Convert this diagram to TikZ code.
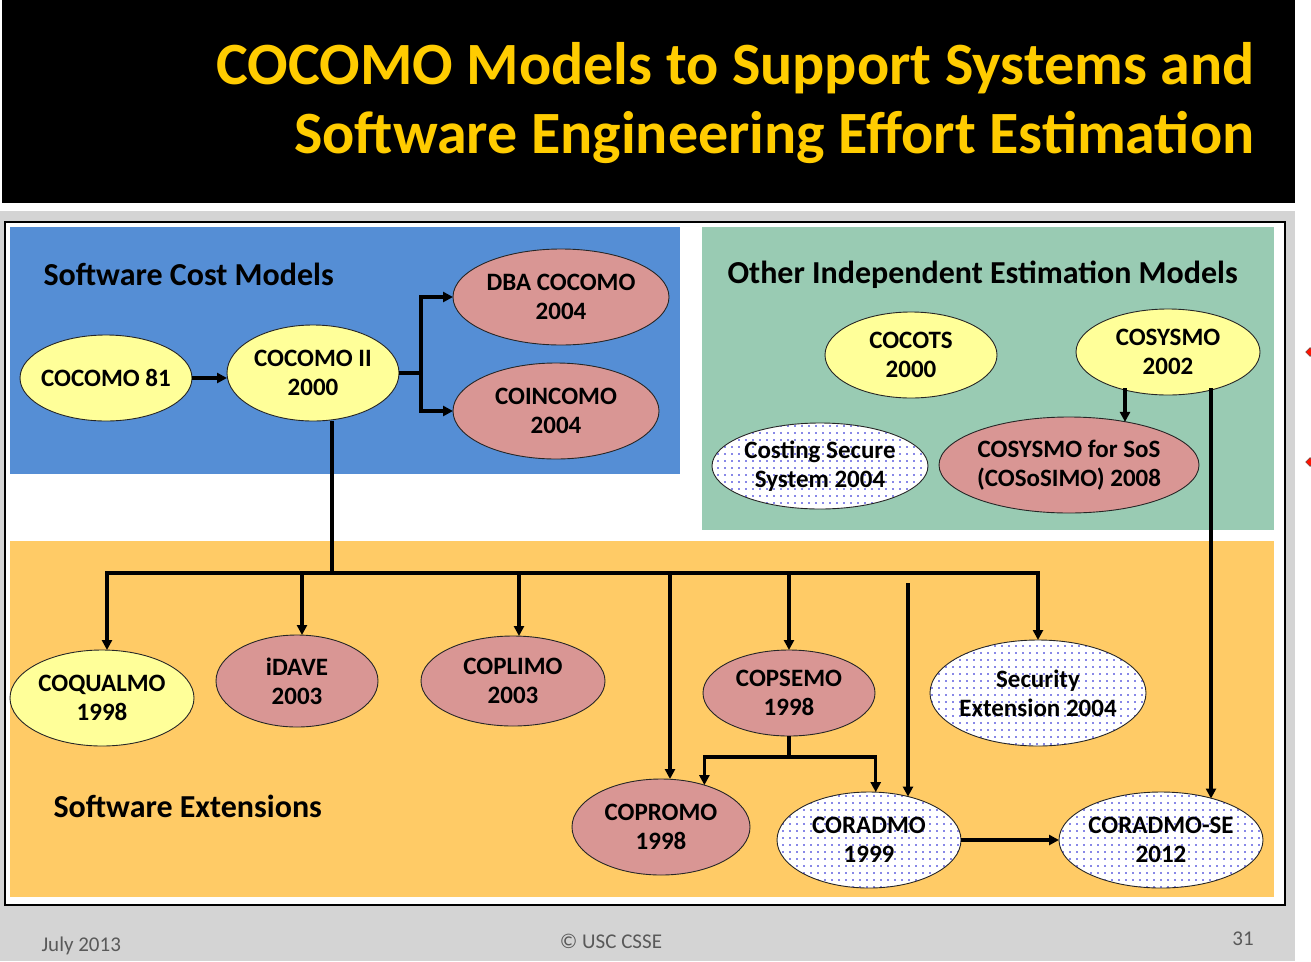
\documentclass[tikz,border=0pt]{standalone}
\usepackage{fontspec}
\setmainfont{Carlito}
\usetikzlibrary{shapes.geometric,patterns.meta,arrows.meta}
\definecolor{titleyel}{HTML}{FFCC00}
\definecolor{bgrey}{HTML}{D4D4D4}
\definecolor{cblue}{HTML}{558ED5}
\definecolor{cgreen}{HTML}{99CBB3}
\definecolor{corange}{HTML}{FFCB66}
\definecolor{eyel}{HTML}{FFFF99}
\definecolor{epink}{HTML}{D99694}
\definecolor{dotblue}{HTML}{1010D0}
\definecolor{foot}{HTML}{595959}
\tikzdeclarepattern{
  name=bluedots,
  type=colored,
  bounding box={(0pt,0pt) and (6.5pt,6.5pt)},
  tile size={(6.5pt,6.5pt)},
  code={\fill[dotblue] (3.25pt,3.25pt) circle (0.9pt);}
}
\tikzset{
  lbl/.style={font=\fontsize{25}{29}\selectfont\bfseries, align=center, text=black},
  ell/.style={ellipse, draw=black!85, line width=0.9pt, inner sep=0pt, outer sep=0pt},
  yel/.style={ell, fill=eyel},
  pink/.style={ell, fill=epink},
  dotted ell/.style={ell, preaction={fill=white}, pattern=bluedots},
  ln/.style={line width=3.2pt, draw=black},
  arr/.style={ln, -{Triangle[length=10pt,width=10pt]}},
  sect/.style={anchor=west, font=\fontsize{32}{36}\selectfont\bfseries, text=black},
  foottext/.style={text=foot, font=\fontsize{21}{24}\selectfont},
  ttl/.style={anchor=east, text=titleyel, font=\fontsize{60}{66}\selectfont\bfseries},
  bullet/.style={diamond, fill=red!85!orange, draw=black!70, line width=0.5pt, inner sep=0pt, minimum size=9pt}
}
\begin{document}
\begin{tikzpicture}[x=1pt,y=-1pt]
\useasboundingbox (0,0) rectangle (1311,961);
% backgrounds
\fill[white] (0,0) rectangle (1311,961);
\fill[bgrey] (0,211) rectangle (1295,961);
\fill[black] (2,0) rectangle (1295,203);
\draw[black, line width=1.2pt, fill=white] (5,222) rectangle (1285,905);
\fill[cblue] (10,227) rectangle (680,474);
\fill[cgreen] (702,227) rectangle (1274,530);
\fill[corange] (10,541) rectangle (1274,897);
% bullets at right edge
\node[bullet] (bu1) at (1310,352) {};
\node[bullet] (bu2) at (1310,462) {};
% title
\node[ttl] (t1) at (1258,68) {COCOMO Models to Support Systems and};
\node[ttl] (t2) at (1258,137) {Software Engineering Effort Estimation};
% section labels
\node[sect] (l1) at (40,274) {Software Cost Models};
\node[sect] (l2) at (724,275) {Other Independent Estimation Models};
\node[sect] (l3) at (50,806) {Software Extensions};
% nodes (ellipses of exact size, text as centred label)
\node[yel, minimum width=172pt, minimum height=86pt, label={[lbl]center:COCOMO 81}] (c81) at (106,378) {};
\node[yel, minimum width=172pt, minimum height=96pt, label={[lbl]center:COCOMO II\\2000}] (c2) at (313,373) {};
\node[pink, minimum width=216pt, minimum height=96pt, label={[lbl]center:DBA COCOMO\\2004}] (dba) at (561,297) {};
\node[pink, minimum width=206pt, minimum height=96pt, label={[lbl]center:COINCOMO\\2004}] (coin) at (556,411) {};
\node[yel, minimum width=172pt, minimum height=86pt, label={[lbl]center:COCOTS\\2000}] (cocots) at (911,355) {};
\node[yel, minimum width=184pt, minimum height=86pt, label={[lbl]center:COSYSMO\\2002}] (cosysmo) at (1168,352) {};
\node[dotted ell, minimum width=216pt, minimum height=86pt, label={[lbl]center:Costing Secure\\System 2004}] (css) at (820,466) {};
\node[pink, minimum width=260pt, minimum height=96pt, label={[lbl]center:COSYSMO for SoS\\(COSoSIMO) 2008}] (cososimo) at (1069,465) {};
\node[yel, minimum width=184pt, minimum height=96pt, label={[lbl]center:COQUALMO\\1998}] (cq) at (102,698) {};
\node[pink, minimum width=162pt, minimum height=92pt, label={[lbl]center:iDAVE\\2003}] (idave) at (297,681) {};
\node[pink, minimum width=184pt, minimum height=90pt, label={[lbl]center:COPLIMO\\2003}] (coplimo) at (513,681) {};
\node[pink, minimum width=172pt, minimum height=86pt, label={[lbl]center:COPSEMO\\1998}] (copsemo) at (789,693) {};
\node[dotted ell, minimum width=216pt, minimum height=106pt, label={[lbl]center:Security\\Extension 2004}] (secext) at (1038,693) {};
\node[pink, minimum width=178pt, minimum height=96pt, label={[lbl]center:COPROMO\\1998}] (copromo) at (661,827) {};
\node[dotted ell, minimum width=184pt, minimum height=96pt, label={[lbl]center:CORADMO\\1999}] (coradmo) at (869,840) {};
\node[dotted ell, minimum width=204pt, minimum height=96pt, label={[lbl]center:CORADMO-SE\\2012}] (coradmose) at (1161,840) {};
% connectors
\draw[arr] (c81.east) -- (c2.west |- c81.east);
\coordinate (j1) at (421,373);
\draw[ln] (c2.east) -- (j1);
\draw[arr] (j1) |- (dba.west);
\draw[arr] (j1) |- (coin.west);
\coordinate (bus) at (332,573);
\coordinate (b1) at (107,573);
\coordinate (b2) at (302,573);
\coordinate (b3) at (519,573);
\coordinate (b4) at (670,573);
\coordinate (b5) at (789,573);
\coordinate (b6) at (1038,573);
\draw[ln] (bus |- c2.south) -- (bus);
\draw[ln, line cap=rect] (b1) -- (b6);
\draw[arr] (b1) -- (b1 |- cq.north);
\draw[arr] (b2) -- (b2 |- idave.north);
\draw[arr] (b3) -- (b3 |- coplimo.north);
\draw[arr] (b4) -- (b4 |- copromo.north);
\draw[arr] (b5) -- (copsemo.north);
\draw[arr] (b6) -- (secext.north);
\draw[ln] (copsemo.south) -- ++(0,21) coordinate (s);
\draw[arr] (s) -| (copromo.44);
\draw[arr] (s) -| (coradmo.82);
\coordinate (f1) at (908,583);
\draw[arr] (f1) -- (f1 |- coradmo.48);
\coordinate (k1) at (1125,388);
\coordinate (k2) at (1211,388);
\draw[arr] (k1) -- (k1 |- cososimo.37.7);
\draw[arr] (k2) -- (k2 |- coradmose.39.9);
\draw[arr] (coradmo.east) -- (coradmose.west);
% footer
\node[foottext, anchor=west] (f_date) at (38,946) {July 2013};
\node[foottext] (f_copy) at (611,941) {© USC CSSE};
\node[foottext] (f_page) at (1243,939) {31};
\end{tikzpicture}
\end{document}
